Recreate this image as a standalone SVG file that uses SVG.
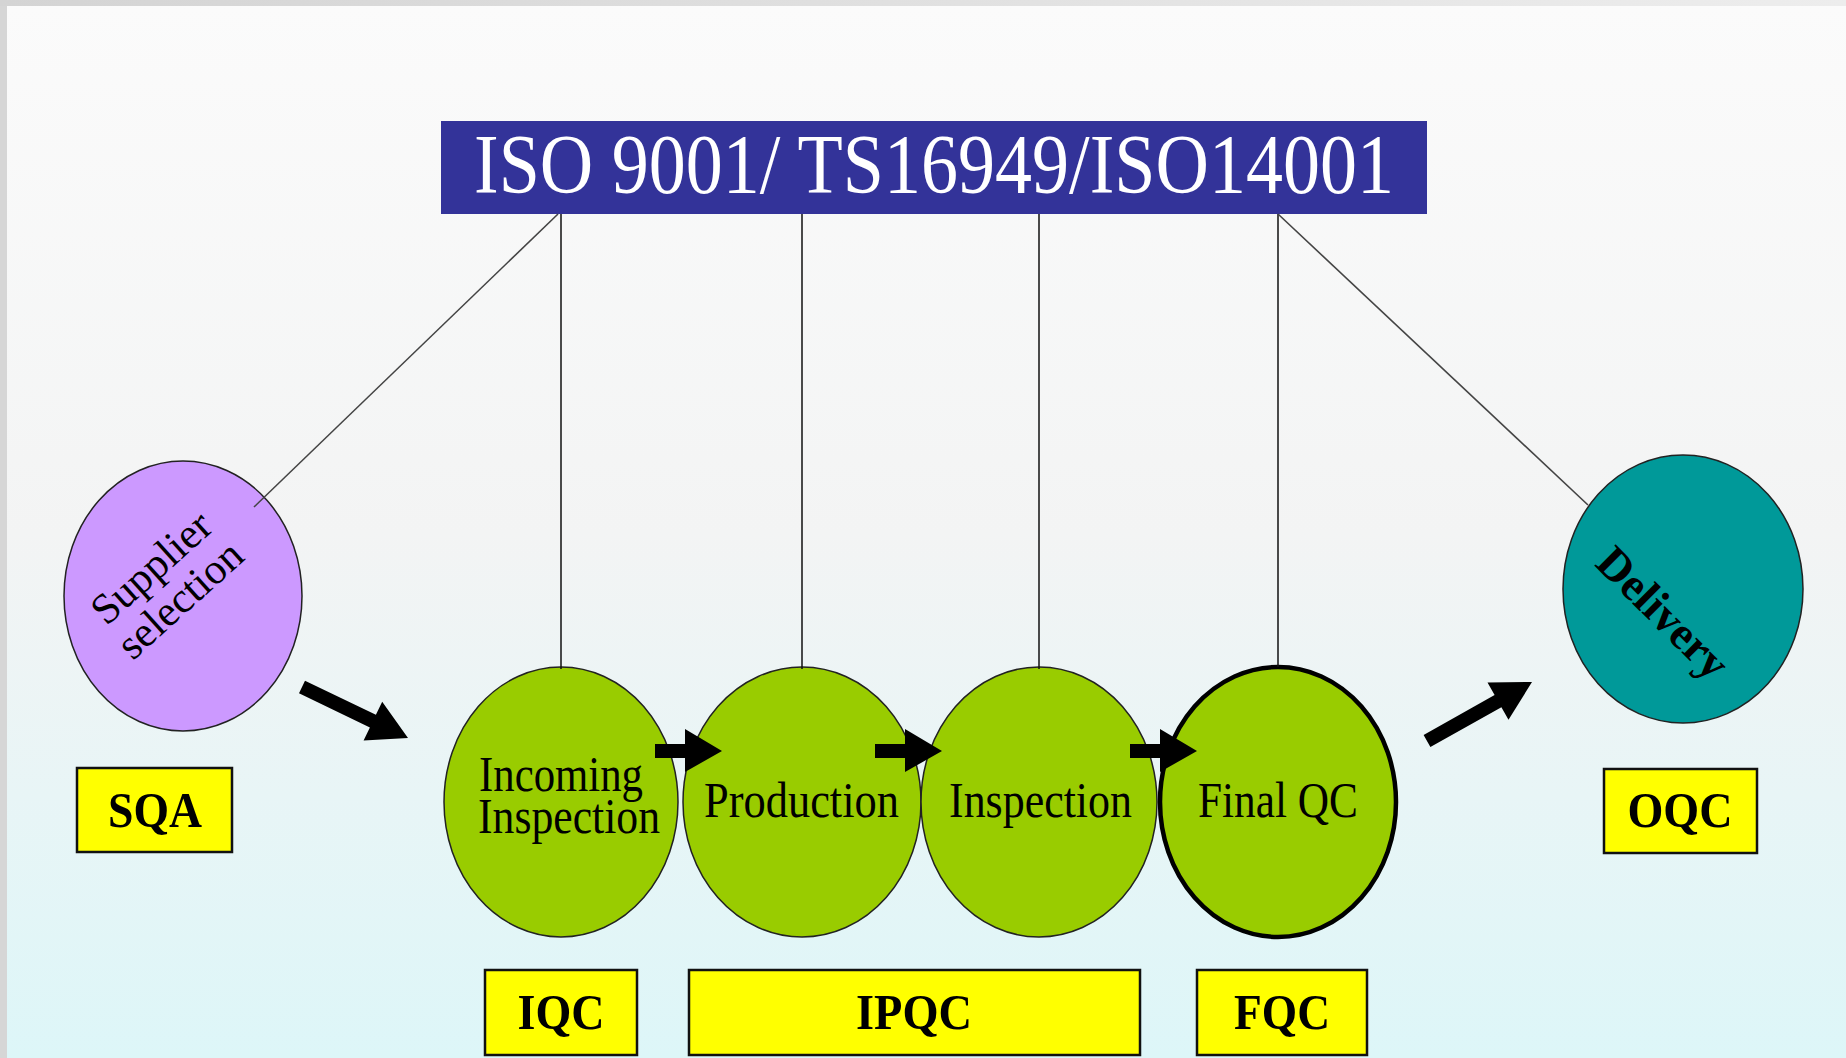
<svg xmlns="http://www.w3.org/2000/svg" width="1846" height="1058" viewBox="0 0 1846 1058">
<defs>
<linearGradient id="bg" x1="0" y1="0" x2="0" y2="1">
<stop offset="0" stop-color="#fbfbfb"/>
<stop offset="0.5" stop-color="#f3f4f4"/>
<stop offset="1" stop-color="#ddf6f8"/>
</linearGradient>
<linearGradient id="topbar" x1="0" y1="0" x2="1" y2="0">
<stop offset="0" stop-color="#d4d4d4"/>
<stop offset="1" stop-color="#ededed"/>
</linearGradient>
<path id="sa" d="M0,-7 H30 V-22 L67,0 L30,21 V7 H0 Z"/>
</defs>
<style>
.ell{stroke:#222;stroke-width:1.5}
.lbl{font-family:"Liberation Serif","Times New Roman",serif;font-size:51px;fill:#000}
.box{fill:#ffff00;stroke:#111;stroke-width:2.5}
.bt{font-family:"Liberation Serif","Times New Roman",serif;font-weight:bold;font-size:51px;fill:#000;text-anchor:middle}
.ln{stroke:#111;stroke-width:1.5;fill:none}
.dg{stroke:#444;stroke-width:1.6;fill:none}
.arr{fill:#000}
</style>
<rect x="0" y="0" width="1846" height="1058" fill="#d6d6d6"/>
<rect x="0" y="0" width="1846" height="6" fill="url(#topbar)"/>
<rect x="7" y="6" width="1839" height="1052" fill="url(#bg)"/>

<g id="title">
<rect x="441" y="121" width="986" height="93" fill="#333399"/>
<text x="474" y="193" font-family="'Liberation Serif','Times New Roman',serif" font-size="84" fill="#ffffff" textLength="920" lengthAdjust="spacingAndGlyphs">ISO 9001/ TS16949/ISO14001</text>
</g>

<g id="supplier">
<ellipse class="ell" cx="183" cy="596" rx="119" ry="135" fill="#cc99ff"/>
<text class="lbl" text-anchor="middle" transform="translate(166,584) rotate(-42)" style="font-size:43px"><tspan x="0" y="-8">Supplier</tspan><tspan x="0" y="35">selection</tspan></text>
</g>

<g id="incoming">
<ellipse class="ell" cx="561" cy="802" rx="117" ry="135" fill="#99cc00"/>
<text class="lbl" x="479" y="791" textLength="164" lengthAdjust="spacingAndGlyphs">Incoming</text>
<text class="lbl" x="478" y="833" textLength="182" lengthAdjust="spacingAndGlyphs">Inspection</text>
</g>

<g id="production">
<ellipse class="ell" cx="802" cy="802" rx="119" ry="135" fill="#99cc00"/>
<text class="lbl" x="704" y="817" textLength="195" lengthAdjust="spacingAndGlyphs">Production</text>
</g>

<g id="inspection">
<ellipse class="ell" cx="1039" cy="802" rx="118" ry="135" fill="#99cc00"/>
<text class="lbl" x="949" y="817" textLength="183" lengthAdjust="spacingAndGlyphs">Inspection</text>
</g>

<g id="finalqc">
<ellipse cx="1278" cy="802" rx="118" ry="135" fill="#99cc00" stroke="#000" stroke-width="4.5"/>
<text class="lbl" x="1198" y="817" textLength="160" lengthAdjust="spacingAndGlyphs">Final QC</text>
</g>

<g id="delivery">
<ellipse class="ell" cx="1683" cy="589" rx="120" ry="134" fill="#009999"/>
<text transform="translate(1663,613) rotate(45)" x="0" y="15" text-anchor="middle" font-family="'Liberation Serif','Times New Roman',serif" font-weight="bold" font-size="46" fill="#000">Delivery</text>
</g>

<g id="sqa">
<rect class="box" x="77" y="768" width="155" height="84"/>
<text class="bt" x="155" y="827" textLength="94" lengthAdjust="spacingAndGlyphs">SQA</text>
</g>
<g id="iqc">
<rect class="box" x="485" y="970" width="152" height="85"/>
<text class="bt" x="561" y="1029" textLength="87" lengthAdjust="spacingAndGlyphs">IQC</text>
</g>
<g id="ipqc">
<rect class="box" x="689" y="970" width="451" height="85"/>
<text class="bt" x="914" y="1029" textLength="116" lengthAdjust="spacingAndGlyphs">IPQC</text>
</g>
<g id="fqc">
<rect class="box" x="1197" y="970" width="170" height="85"/>
<text class="bt" x="1282" y="1029" textLength="96" lengthAdjust="spacingAndGlyphs">FQC</text>
</g>
<g id="oqc">
<rect class="box" x="1604" y="769" width="153" height="84"/>
<text class="bt" x="1680" y="827" textLength="105" lengthAdjust="spacingAndGlyphs">OQC</text>
</g>

<g id="connectors">
<line class="dg" x1="558" y1="214" x2="254" y2="507"/>
<line class="ln" x1="561" y1="214" x2="561" y2="669"/>
<line class="ln" x1="802" y1="214" x2="802" y2="669"/>
<line class="ln" x1="1039" y1="214" x2="1039" y2="669"/>
<line class="ln" x1="1278" y1="214" x2="1278" y2="667"/>
<line class="dg" x1="1278" y1="214" x2="1588" y2="505"/>
<polygon class="arr" points="305,680.7 375.9,714.8 382.2,701.7 408,738 363.6,740.5 369.9,727.4 299,693.3"/>
<polygon class="arr" points="1423.6,734.9 1494.6,695 1487.5,682.4 1532,682 1508.5,719.8 1501.4,707.2 1430.4,747.1"/>
<use href="#sa" class="arr" transform="translate(655,751)"/>
<use href="#sa" class="arr" transform="translate(875,751)"/>
<use href="#sa" class="arr" transform="translate(1130,751)"/>
</g>
</svg>
